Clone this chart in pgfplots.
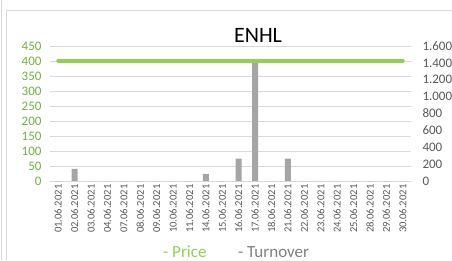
\documentclass[border=0pt]{standalone}
\usepackage{fontspec}
\setmainfont{Carlito}
\usepackage{pgfplots}
\pgfplotsset{compat=1.18}
\definecolor{pricegreen}{HTML}{92D050}
\definecolor{ticgreen}{HTML}{76B041}
\definecolor{bargray}{HTML}{A5A5A5}
\definecolor{gridgray}{HTML}{D9D9D9}
\definecolor{labgray}{HTML}{595959}
\definecolor{leggray}{HTML}{808080}
\begin{document}
\begin{tikzpicture}
\useasboundingbox (0pt,0pt) rectangle (452pt,260pt);
\clip (0pt,0pt) rectangle (452pt,260pt);
\fill[white] (0pt,0pt) rectangle (452pt,260pt);
\draw[gridgray, line width=0.8pt] (1.5pt,0pt) -- (1.5pt,260pt);
\draw[gridgray, line width=0.8pt] (6.5pt,0pt) -- (6.5pt,249.5pt) -- (452pt,249.5pt);
\pgfplotsset{
  common/.style={
    at={(50pt,79pt)}, anchor=south west, scale only axis,
    width=361pt, height=135pt, xmin=-0.5, xmax=21.5,
    major tick length=0pt,
    /pgf/number format/assume math mode=true,
  }
}
% axis 1: grid, left ticks, category labels
\begin{axis}[common,
  ymin=0, ymax=450, ytick={0,50,...,450},
  axis x line*=bottom, axis y line*=left,
  x axis line style={gridgray, line width=0.8pt, -},
  y axis line style={draw=none},
  ymajorgrids, grid style={gridgray, line width=0.8pt},
  yticklabel style={font=\fontsize{13}{13}\selectfont, text=ticgreen, xshift=-5pt},
  xtick={0,...,21},
  xticklabels={01.06.2021,02.06.2021,03.06.2021,04.06.2021,07.06.2021,08.06.2021,09.06.2021,10.06.2021,11.06.2021,14.06.2021,15.06.2021,16.06.2021,17.06.2021,18.06.2021,21.06.2021,22.06.2021,23.06.2021,24.06.2021,25.06.2021,28.06.2021,29.06.2021,30.06.2021},
  xticklabel style={rotate=90, anchor=east, font=\fontsize{10.6}{10.6}\selectfont, text=labgray},
]
\addplot[draw=none, forget plot] coordinates {(0,0)};
\end{axis}
% axis 2: turnover bars, right ticks
\begin{axis}[common,
  ymin=0, ymax=1600, ytick={0,200,...,1600},
  yticklabels={0,200,400,600,800,1.000,1.200,1.400,1.600},
  axis y line*=right, axis x line=none,
  y axis line style={draw=none},
  yticklabel style={font=\fontsize{13}{13}\selectfont, text=labgray, xshift=8pt},
  xtick=\empty,
]
\addplot[ybar, bar width=6pt, fill=bargray, draw=none] coordinates {
(0,0) (1,145) (2,0) (3,0) (4,0) (5,0) (6,0) (7,0) (8,0) (9,85) (10,0)
(11,265) (12,1400) (13,0) (14,265) (15,0) (16,0) (17,0) (18,0) (19,0) (20,0) (21,0)};
\end{axis}
% axis 3: price line
\begin{axis}[common, ymin=0, ymax=450, hide axis]
\addplot[pricegreen, line width=4pt, line cap=round, mark=none] coordinates {
(0,400) (1,400) (2,400) (3,400) (4,400) (5,400) (6,400) (7,400) (8,400) (9,400) (10,400)
(11,400) (12,400) (13,400) (14,400) (15,400) (16,400) (17,400) (18,400) (19,400) (20,400) (21,400)};
\end{axis}
\node[anchor=base, font=\fontsize{22}{22}\selectfont, text=black] at (258pt,217.5pt) {ENHL};
\node[anchor=base west, inner sep=0pt, font=\fontsize{17}{17}\selectfont, text=pricegreen] at (163pt,3pt) {- Price};
\node[anchor=base west, inner sep=0pt, font=\fontsize{17}{17}\selectfont, text=leggray] at (238pt,3pt) {- Turnover};
\end{tikzpicture}
\end{document}
